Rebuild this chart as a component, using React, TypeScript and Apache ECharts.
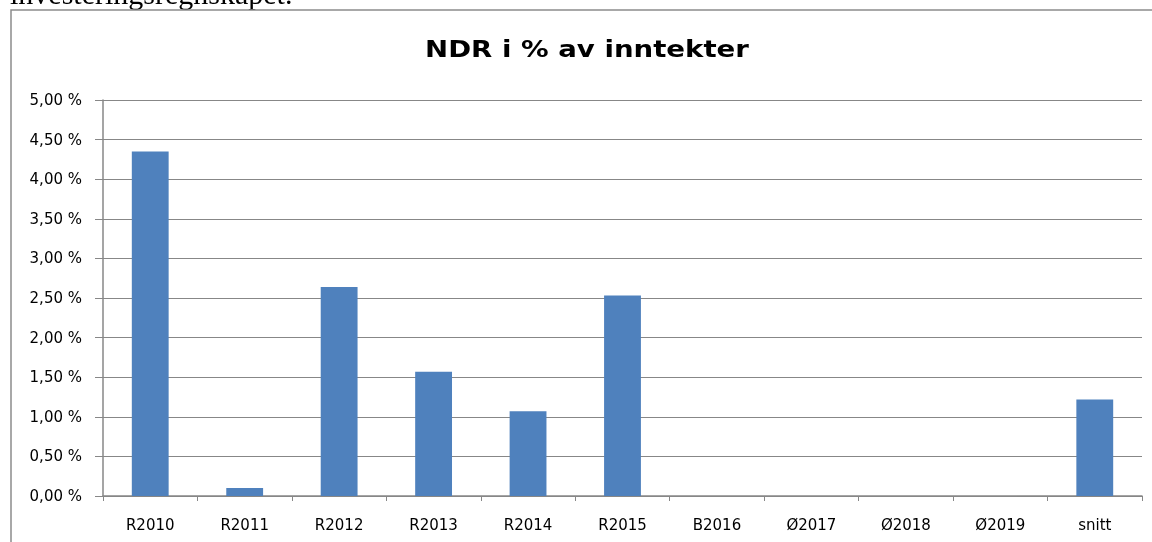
import React, { useEffect, useRef } from "react";
import * as echarts from "echarts";

const categories = ["R2010", "R2011", "R2012", "R2013", "R2014", "R2015", "B2016", "Ø2017", "Ø2018", "Ø2019", "snitt"];
const values = [4.35, 0.1, 2.64, 1.57, 1.07, 2.53, null, null, null, null, 1.22];
const titleText = "NDR i % av inntekter";
const headerText = "investeringsregnskapet.";

export default function App() {
  const ref = useRef<HTMLDivElement>(null);
  useEffect(() => {
    const chart = echarts.init(ref.current!, null, { renderer: "svg" });
    chart.setOption({
      animation: false,
      graphic: [
        {
          type: "text",
          x: 10,
          y: 8,
          style: { text: headerText, font: "30px 'Liberation Serif'", fill: "#000", verticalAlign: "bottom" },
        },
        {
          type: "text",
          x: 587,
          y: 37,
          scaleX: 1.2,
          style: {
            text: titleText,
            font: "bold 23px 'DejaVu Sans'",
            fill: "#000",
            align: "center",
            verticalAlign: "top",
          },
        },
        {
          type: "polyline",
          shape: { points: [[11, 542], [11, 10], [1152, 10]] },
          style: { stroke: "#8c8c8c", lineWidth: 1.5, fill: "none" },
        },
      ],
      grid: { left: 103, right: 10, top: 100, bottom: 46 },
      xAxis: {
        type: "category",
        data: categories,
        axisLine: { lineStyle: { color: "#878787", width: 1.5 } },
        axisTick: { show: true, length: 5, lineStyle: { color: "#878787" } },
        axisLabel: { fontFamily: "DejaVu Sans", fontSize: 15, color: "#000", margin: 21 },
      },
      yAxis: {
        type: "value",
        min: 0,
        max: 5,
        interval: 0.5,
        axisLine: { show: true, lineStyle: { color: "#878787", width: 1.5 } },
        axisTick: { show: true, length: 8, lineStyle: { color: "#878787" } },
        splitLine: { lineStyle: { color: "#878787", width: 1 } },
        axisLabel: {
          fontFamily: "DejaVu Sans",
          fontSize: 15,
          color: "#000",
          margin: 21,
          formatter: (v: number) => v.toFixed(2).replace(".", ",") + " %",
        },
      },
      series: [
        {
          type: "bar",
          data: values,
          barWidth: "39%",
          itemStyle: { color: "#4f81bd" },
        },
      ],
    });
    return () => chart.dispose();
  }, []);
  return <div ref={ref} style={{ position: "fixed", left: 0, top: 0, width: 1152, height: 542 }} />;
}
